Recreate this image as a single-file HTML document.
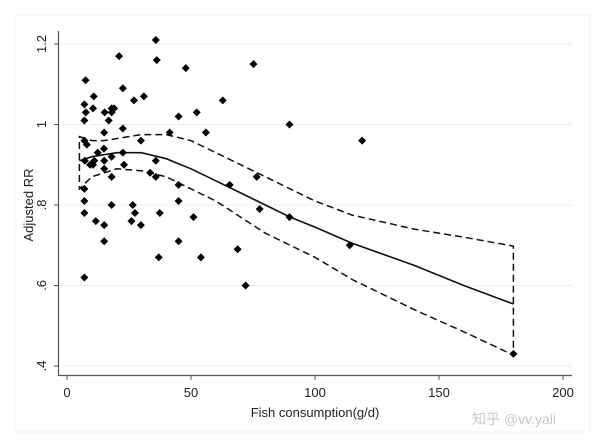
<!DOCTYPE html>
<html><head><meta charset="utf-8"><style>
html,body{margin:0;padding:0;background:#fff;}
svg{display:block;font-family:"Liberation Sans","Noto Sans CJK SC",sans-serif;}
</style></head><body>
<svg id="chart" width="600" height="446" viewBox="0 0 600 446">
<rect x="0" y="0" width="600" height="446" fill="#fff"/>
<rect x="15" y="15" width="575" height="417" fill="none" stroke="#f0f0f0" stroke-width="1"/>
<g id="grid"></g>
<g id="axes"></g>
<g id="curves"></g>
<g id="pts"></g>
<text x="33" y="205" transform="rotate(-90 33 205)" text-anchor="middle" font-size="13" fill="#222">Adjusted RR</text>
<text x="315" y="417" text-anchor="middle" font-size="13" fill="#222">Fish consumption(g/d)</text>
<text x="472" y="424" font-size="14" fill="#c8c8c8">知乎 @vv.yali</text>
</svg>
<script>
const xTicks=[0,50,100,150,200];
const yTicks=[0.4,0.6,0.8,1.0,1.2];
const yTickLabels=[".4",".6",".8","1","1.2"];
const ptX=[7,7.5,7,7.6,7,10.8,10.5,8,7.2,9.3,10.5,11,12.4,14.9,15,15,15,15.2,16.8,18,19,18,18,18,18,7,7,7,11.6,15,15,7,21,22.5,22.5,22.5,23,27,31,29.8,26.5,27.4,26,29.8,35.8,36.2,33.5,35.8,35.8,37.4,37,41.4,45,47.9,45,45,45,52.3,56,51,54,62.8,65.6,68.8,72,75.2,89.7,76.5,77.7,89.7,119,114,180];
const ptY=[0.96,1.11,1.05,1.03,1.01,1.07,1.04,0.95,0.91,0.90,0.90,0.91,0.93,0.94,0.91,0.89,0.98,1.03,1.01,1.04,1.04,1.03,0.92,0.87,0.80,0.84,0.81,0.78,0.76,0.75,0.71,0.62,1.17,1.09,0.99,0.93,0.90,1.06,1.07,0.96,0.80,0.78,0.76,0.75,1.21,1.16,0.88,0.91,0.87,0.78,0.67,0.98,1.02,1.14,0.85,0.81,0.71,1.03,0.98,0.77,0.67,1.06,0.85,0.69,0.60,1.15,1.00,0.87,0.79,0.77,0.96,0.70,0.43];
const curveX=[5,10,15,20,30,40,50,60,70,80,90,100,115,140,160,180];
const fitY=[0.91,0.92,0.925,0.93,0.93,0.915,0.89,0.86,0.83,0.80,0.77,0.745,0.705,0.65,0.60,0.554];
const upperY=[0.97,0.96,0.96,0.965,0.975,0.975,0.96,0.93,0.90,0.87,0.84,0.81,0.775,0.74,0.72,0.698];
const lowerY=[0.84,0.87,0.88,0.89,0.885,0.87,0.84,0.81,0.77,0.73,0.70,0.67,0.615,0.54,0.485,0.427];

const NS="http://www.w3.org/2000/svg";
const X=v=>67+v*2.48;
const Y=v=>44+(1.2-v)*402.5;
function mk(tag,attrs,parent){const e=document.createElementNS(NS,tag);for(const k in attrs)e.setAttribute(k,attrs[k]);document.getElementById(parent).appendChild(e);return e;}
yTicks.forEach((t,i)=>{
  const g=mk('line',{x1:59,x2:572,y1:Y(t),y2:Y(t),stroke:'#ececec','stroke-width':1},'grid');
  
  
  const tk=mk('line',{x1:54,x2:59,y1:Y(t),y2:Y(t),stroke:'#555'},'axes');
  
  
  const tx=mk('text',{x:46,y:Y(t),'text-anchor':'middle','font-size':13,fill:'#222',transform:`rotate(-90 46 ${Y(t)})`},'axes');
  tx.textContent=yTickLabels[i];
  
  
});
xTicks.forEach(t=>{
  const tk=mk('line',{x1:X(t),x2:X(t),y1:375,y2:380,stroke:'#555'},'axes');
  
  
  const tx=mk('text',{x:X(t),y:397,'text-anchor':'middle','font-size':13,fill:'#222'},'axes');
  tx.textContent=t;
  
  
});
const ya=mk('line',{x1:58.5,x2:58.5,y1:31,y2:375.5,stroke:'#555','stroke-width':1.2},'axes');


const xa=mk('line',{x1:58,x2:572,y1:375.5,y2:375.5,stroke:'#555','stroke-width':1.2},'axes');


function pathOf(ys){return curveX.map((x,i)=>(i?'L':'M')+X(x).toFixed(1)+','+Y(ys[i]).toFixed(1)).join('');}
const fit=mk('path',{d:pathOf(fitY),fill:'none',stroke:'#111','stroke-width':1.6},'curves');


const n=curveX.length-1;
const ciD=pathOf(upperY)+'L'+X(curveX[n])+','+Y(lowerY[n])+curveX.slice().reverse().map((x,i)=>'L'+X(x).toFixed(1)+','+Y(lowerY[n-i]).toFixed(1)).join('')+'Z';
const ci=mk('path',{d:ciD,fill:'none',stroke:'#111','stroke-width':1.5,'stroke-dasharray':'7,4'},'curves');


ptX.forEach((x,i)=>{
  const cx=X(x),cy=Y(ptY[i]);
  const p=mk('polygon',{points:`${cx},${cy-4} ${cx+4},${cy} ${cx},${cy+4} ${cx-4},${cy}`,fill:'#000'},'pts');
  
  
});
</script>
</body></html>
